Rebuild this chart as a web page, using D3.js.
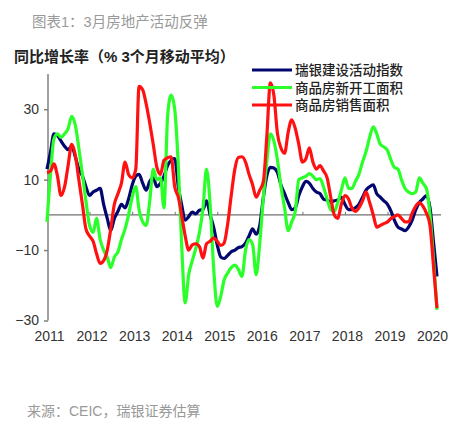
<!DOCTYPE html>
<html>
<head>
<meta charset="utf-8">
<script src="https://d3js.org/d3.v7.min.js"></script>
<style>
body{margin:0;background:#fff;}
text{font-family:"Liberation Sans","Noto Sans CJK SC",sans-serif;}
</style>
</head>
<body>
<script>
// monthly, Jan 2011 .. Mar 2020, % yoy 3mma
var startYear = 2011;
var years = [2011,2012,2013,2014,2015,2016,2017,2018,2019,2020];
var yTicks = [-30,-10,10,30];

var ubsIndex = [13,18,23,22.5,21,19.5,18.5,19.5,16.5,13,11,8,
  5.5,6.5,7,7.5,3,-1,-4.5,-1,1,3,2,4.5,
  8.5,11,11.5,9,7,9.5,10.5,8,9,11,14,15.5,
  16,8,3,-1.5,-0.5,0.8,0.3,1.3,1.5,4,0,-3.5,
  -8.5,-12,-12.4,-11.5,-10.5,-10,-9.3,-9,-8,-6,-4,-5.5,
  -3,5,11,13.5,13.3,12,8.5,6,3.5,1.5,2,5.5,
  8,9.5,9,7.5,6.5,6,4.5,4.2,3.6,4,4.2,5,
  3,1.5,1.5,2,3,5,7,8,8.5,6,5,4,
  3,1,-1.5,-3.5,-4,-4.5,-3.5,-1.5,1.5,3.5,4.5,5.5,
  2,-8,-17.5];

var newStarts = [-2,12,21.5,23,22,23,24.5,28,25.5,19,11.5,4,
  -3,-5,-1,-7,-10,-12,-15,-12,-10.5,-7,-4,0,
  5,8,1.5,-2,-3,4,13,10,10.5,2,28,34,
  30,14,-8,-25,-17,-13,-9.5,-5,2,13,3,-15,
  -26,-23,-18.5,-16.5,-15,-14.3,-15.5,-17.5,-10,-7,-8.5,-17,
  -8,5,15,23,21,15.5,8,2,-4.5,-2,1,10,
  10.5,11,11.7,11,10,10.3,8,4.5,1.5,1,3.5,7,
  10.5,7.5,7.5,9.5,11.5,15,18,22,25,23,20,19.3,
  18.3,15.5,13.5,13,10,7.5,6.5,6,6.5,10.5,9,7.5,
  0,-13,-27];

var sales = [12,12.5,14.5,11,5.5,8,14,20,17,10,3,-4,
  -6,-7.5,-11,-13.8,-13,-10,-4,3,6,9,15,11.5,
  10.5,13,36.5,35.5,31.5,26,20,13.5,11.5,15.5,16.2,16.5,
  8,5,0,-6,-10,-8.5,-8.2,-9,-12.3,-8.2,-7.5,-6.5,
  -7.5,-8.7,-8,-2.5,5.5,13,16.3,16.5,15,11.5,8.5,5,
  7,9.5,22,37.5,34,23,19,17.5,23.5,27,24.5,20,
  15,16,19,15,13,14,12.5,10.5,5,0,-1,3,
  5.5,4.5,2,1,2,4,6.5,3.5,0,-3.5,-3,-2.5,
  -2,-1,-0.5,0,-1,-2,-2,0.5,2.5,3.5,2.5,0.5,
  -3,-15,-26.5];

var seriesNames = ["瑞银建设活动指数","商品房新开工面积","商品房销售面积"];
var seriesColors = ["#02066f","#2aff2a","#ff1111"];

var W = 455, H = 432;
var svg = d3.select("body").append("svg").attr("width", W).attr("height", H);

var x = d3.scaleTime()
    .domain([new Date(2011,0,1), new Date(2020,0,1)])
    .range([47, 430]);
var y = d3.scaleLinear().domain([-30,40]).range([320.5,74]);

function dates(vals){
  return vals.map(function(v,i){ return {d:new Date(startYear, i, 1), v:v}; });
}

// title + subtitle
svg.append("text").attr("x",32).attr("y",27)
  .style("font-size","14.5px").style("fill","#9a9a9a")
  .text("图表1：3月房地产活动反弹");
svg.append("text").attr("x",14).attr("y",62)
  .style("font-size","15px").style("font-weight","bold").style("fill","#222")
  .text("同比增长率（% 3个月移动平均）");

// y axis
var yAxis = svg.append("g").attr("transform","translate(48,0)")
  .call(d3.axisLeft(y).tickValues(yTicks).tickSize(4).tickPadding(5));
yAxis.select(".domain").attr("stroke","#808080").attr("stroke-width",1.5)
  .attr("d","M0,"+y(40)+"V"+y(-30));
yAxis.selectAll(".tick line").attr("stroke","#808080").attr("stroke-width",1.5);
yAxis.selectAll("text").style("font-size","14px").style("fill","#333")
  .style("font-family","Liberation Sans, Arial, sans-serif");

// zero line with year ticks
var zAxis = svg.append("g").attr("transform","translate(0,"+y(0)+")")
  .call(d3.axisTop(x).ticks(d3.timeYear).tickSize(3).tickFormat(""));
zAxis.select(".domain").attr("stroke","#707070").attr("stroke-width",1.2)
  .attr("d","M48,0H441");
zAxis.selectAll(".tick line").attr("stroke","#707070");

// year labels
var xLab = svg.append("g").attr("transform","translate(2,331)")
  .call(d3.axisBottom(x).ticks(d3.timeYear).tickSize(0).tickPadding(0)
  .tickFormat(d3.timeFormat("%Y")));
xLab.select(".domain").remove();
xLab.selectAll("text").style("font-size","14px").style("fill","#333")
  .style("font-family","Liberation Sans, Arial, sans-serif");

var line = d3.line().x(function(p){return x(p.d);}).y(function(p){return y(p.v);})
  .curve(d3.curveMonotoneX);

[ubsIndex, newStarts, sales].forEach(function(s,i){
  svg.append("path").datum(dates(s))
    .attr("d", line)
    .attr("fill","none")
    .attr("stroke", seriesColors[i])
    .attr("stroke-width", 3.2)
    .attr("stroke-linejoin","round");
});

// legend
var leg = svg.append("g");
seriesNames.forEach(function(n,i){
  var ly = 70 + i*17.5;
  leg.append("line").attr("x1",252).attr("x2",292).attr("y1",ly).attr("y2",ly)
    .attr("stroke",seriesColors[i]).attr("stroke-width",3.2);
  leg.append("text").attr("x",295).attr("y",ly+5)
    .style("font-size","13.5px").style("fill","#222").style("font-weight","500")
    .text(n);
});

// source
svg.append("text").attr("x",27).attr("y",416)
  .style("font-size","14px").style("fill","#999")
  .text("来源：CEIC，瑞银证券估算");
</script>
</body>
</html>
